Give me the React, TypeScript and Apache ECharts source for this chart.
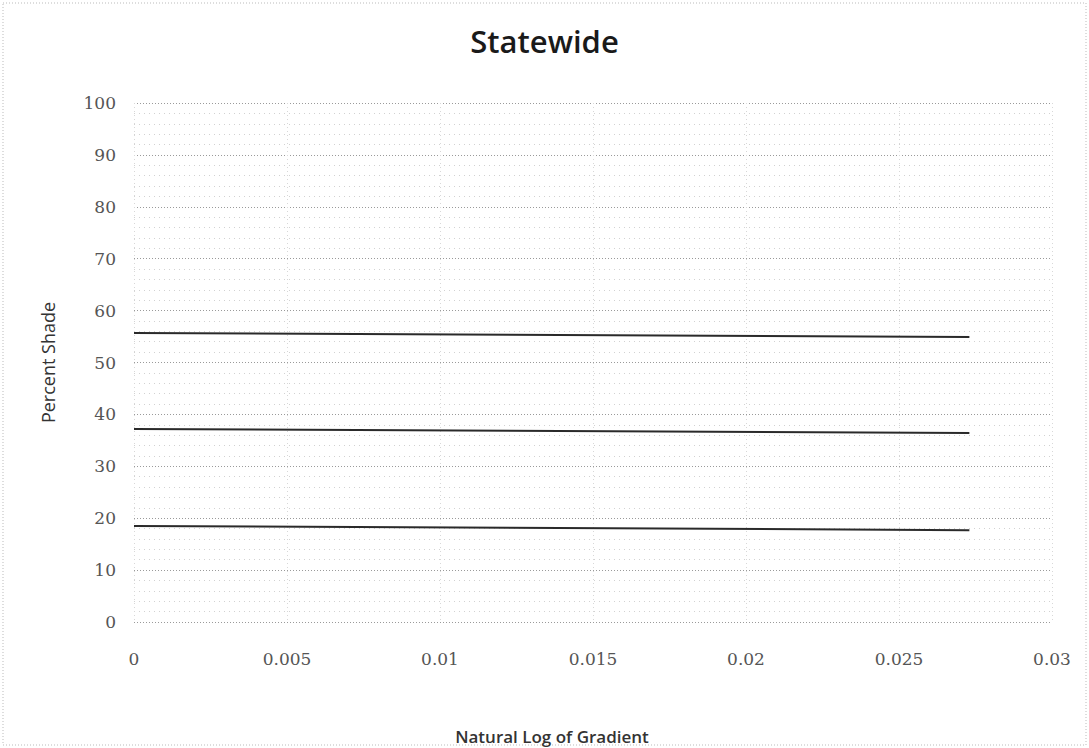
import React, { useEffect, useRef } from "react";
import * as echarts from "echarts";

const xEnds = [0, 0.0273];
const upperLine = [55.7, 54.9];
const middleLine = [37.2, 36.4];
const lowerLine = [18.5, 17.7];
const yTicks = [0, 10, 20, 30, 40, 50, 60, 70, 80, 90, 100];
const xTicks = [0, 0.005, 0.01, 0.015, 0.02, 0.025, 0.03];

const toPairs = (ys: number[]) => ys.map((y, i) => [xEnds[i], y]);

export default function App() {
  const ref = useRef<HTMLDivElement>(null);
  useEffect(() => {
    if (!ref.current) return;
    const chart = echarts.init(ref.current, null, { renderer: "svg" });
    const lineStyle = { color: "#2a2a2a", width: 2 };
    chart.setOption({
      animation: false,
      backgroundColor: "#ffffff",
      title: {
        text: "Statewide",
        left: "center",
        top: 20,
        textStyle: {
          fontFamily: "Open Sans",
          fontSize: 31,
          fontWeight: 600,
          color: "#1a1a1a",
        },
      },
      graphic: [
        {
          type: "rect",
          shape: { x: 3, y: 3, width: 1083, height: 742 },
          style: { fill: "none", stroke: "#bbbbbb", lineWidth: 1, lineDash: [1, 2] },
          silent: true,
        },
        {
          type: "text",
          x: 552,
          y: 736,
          style: {
            text: "Natural Log of Gradient",
            fontFamily: "Open Sans",
            fontSize: 17,
            fontWeight: 600,
            fill: "#333",
            textAlign: "center",
            textVerticalAlign: "middle",
          },
          silent: true,
        },
      ],
      grid: { left: 134, right: 37, top: 103, bottom: 126 },
      xAxis: {
        type: "value",
        min: 0,
        max: 0.03,
        interval: 0.005,
        axisLine: { show: false },
        axisTick: { show: false },
        axisLabel: {
          margin: 28,
          fontFamily: "DejaVu Serif",
          fontSize: 17,
          color: "#555",
          formatter: (v: number) => {
            const t = xTicks.find((k) => Math.abs(k - v) < 1e-9);
            return t === undefined ? "" : String(t);
          },
        },
        splitLine: {
          show: true,
          lineStyle: { color: "#d8d8d8", type: [1, 3], width: 1 },
        },
      },
      yAxis: {
        type: "value",
        min: 0,
        max: 100,
        interval: 10,
        name: "Percent Shade",
        nameLocation: "middle",
        nameGap: 77,
        nameTextStyle: {
          fontFamily: "Open Sans",
          fontSize: 18,
          color: "#333",
        },
        axisLine: { show: false },
        axisTick: { show: false },
        axisLabel: {
          margin: 18,
          fontFamily: "DejaVu Serif",
          fontSize: 17,
          color: "#555",
          formatter: (v: number) => (yTicks.includes(v) ? String(v) : ""),
        },
        splitLine: {
          show: true,
          lineStyle: { color: "#9a9a9a", type: [1, 2], width: 1 },
        },
        minorTick: { show: false, splitNumber: 5 },
        minorSplitLine: {
          show: true,
          lineStyle: { color: "#d2d2d2", type: [1, 4], width: 1 },
        },
      },
      series: [
        { type: "line", data: toPairs(upperLine), symbol: "none", lineStyle },
        { type: "line", data: toPairs(middleLine), symbol: "none", lineStyle },
        { type: "line", data: toPairs(lowerLine), symbol: "none", lineStyle },
      ],
    });
    return () => chart.dispose();
  }, []);
  return (
    <div
      ref={ref}
      style={{ position: "fixed", left: 0, top: 0, width: 1089, height: 748 }}
    />
  );
}
